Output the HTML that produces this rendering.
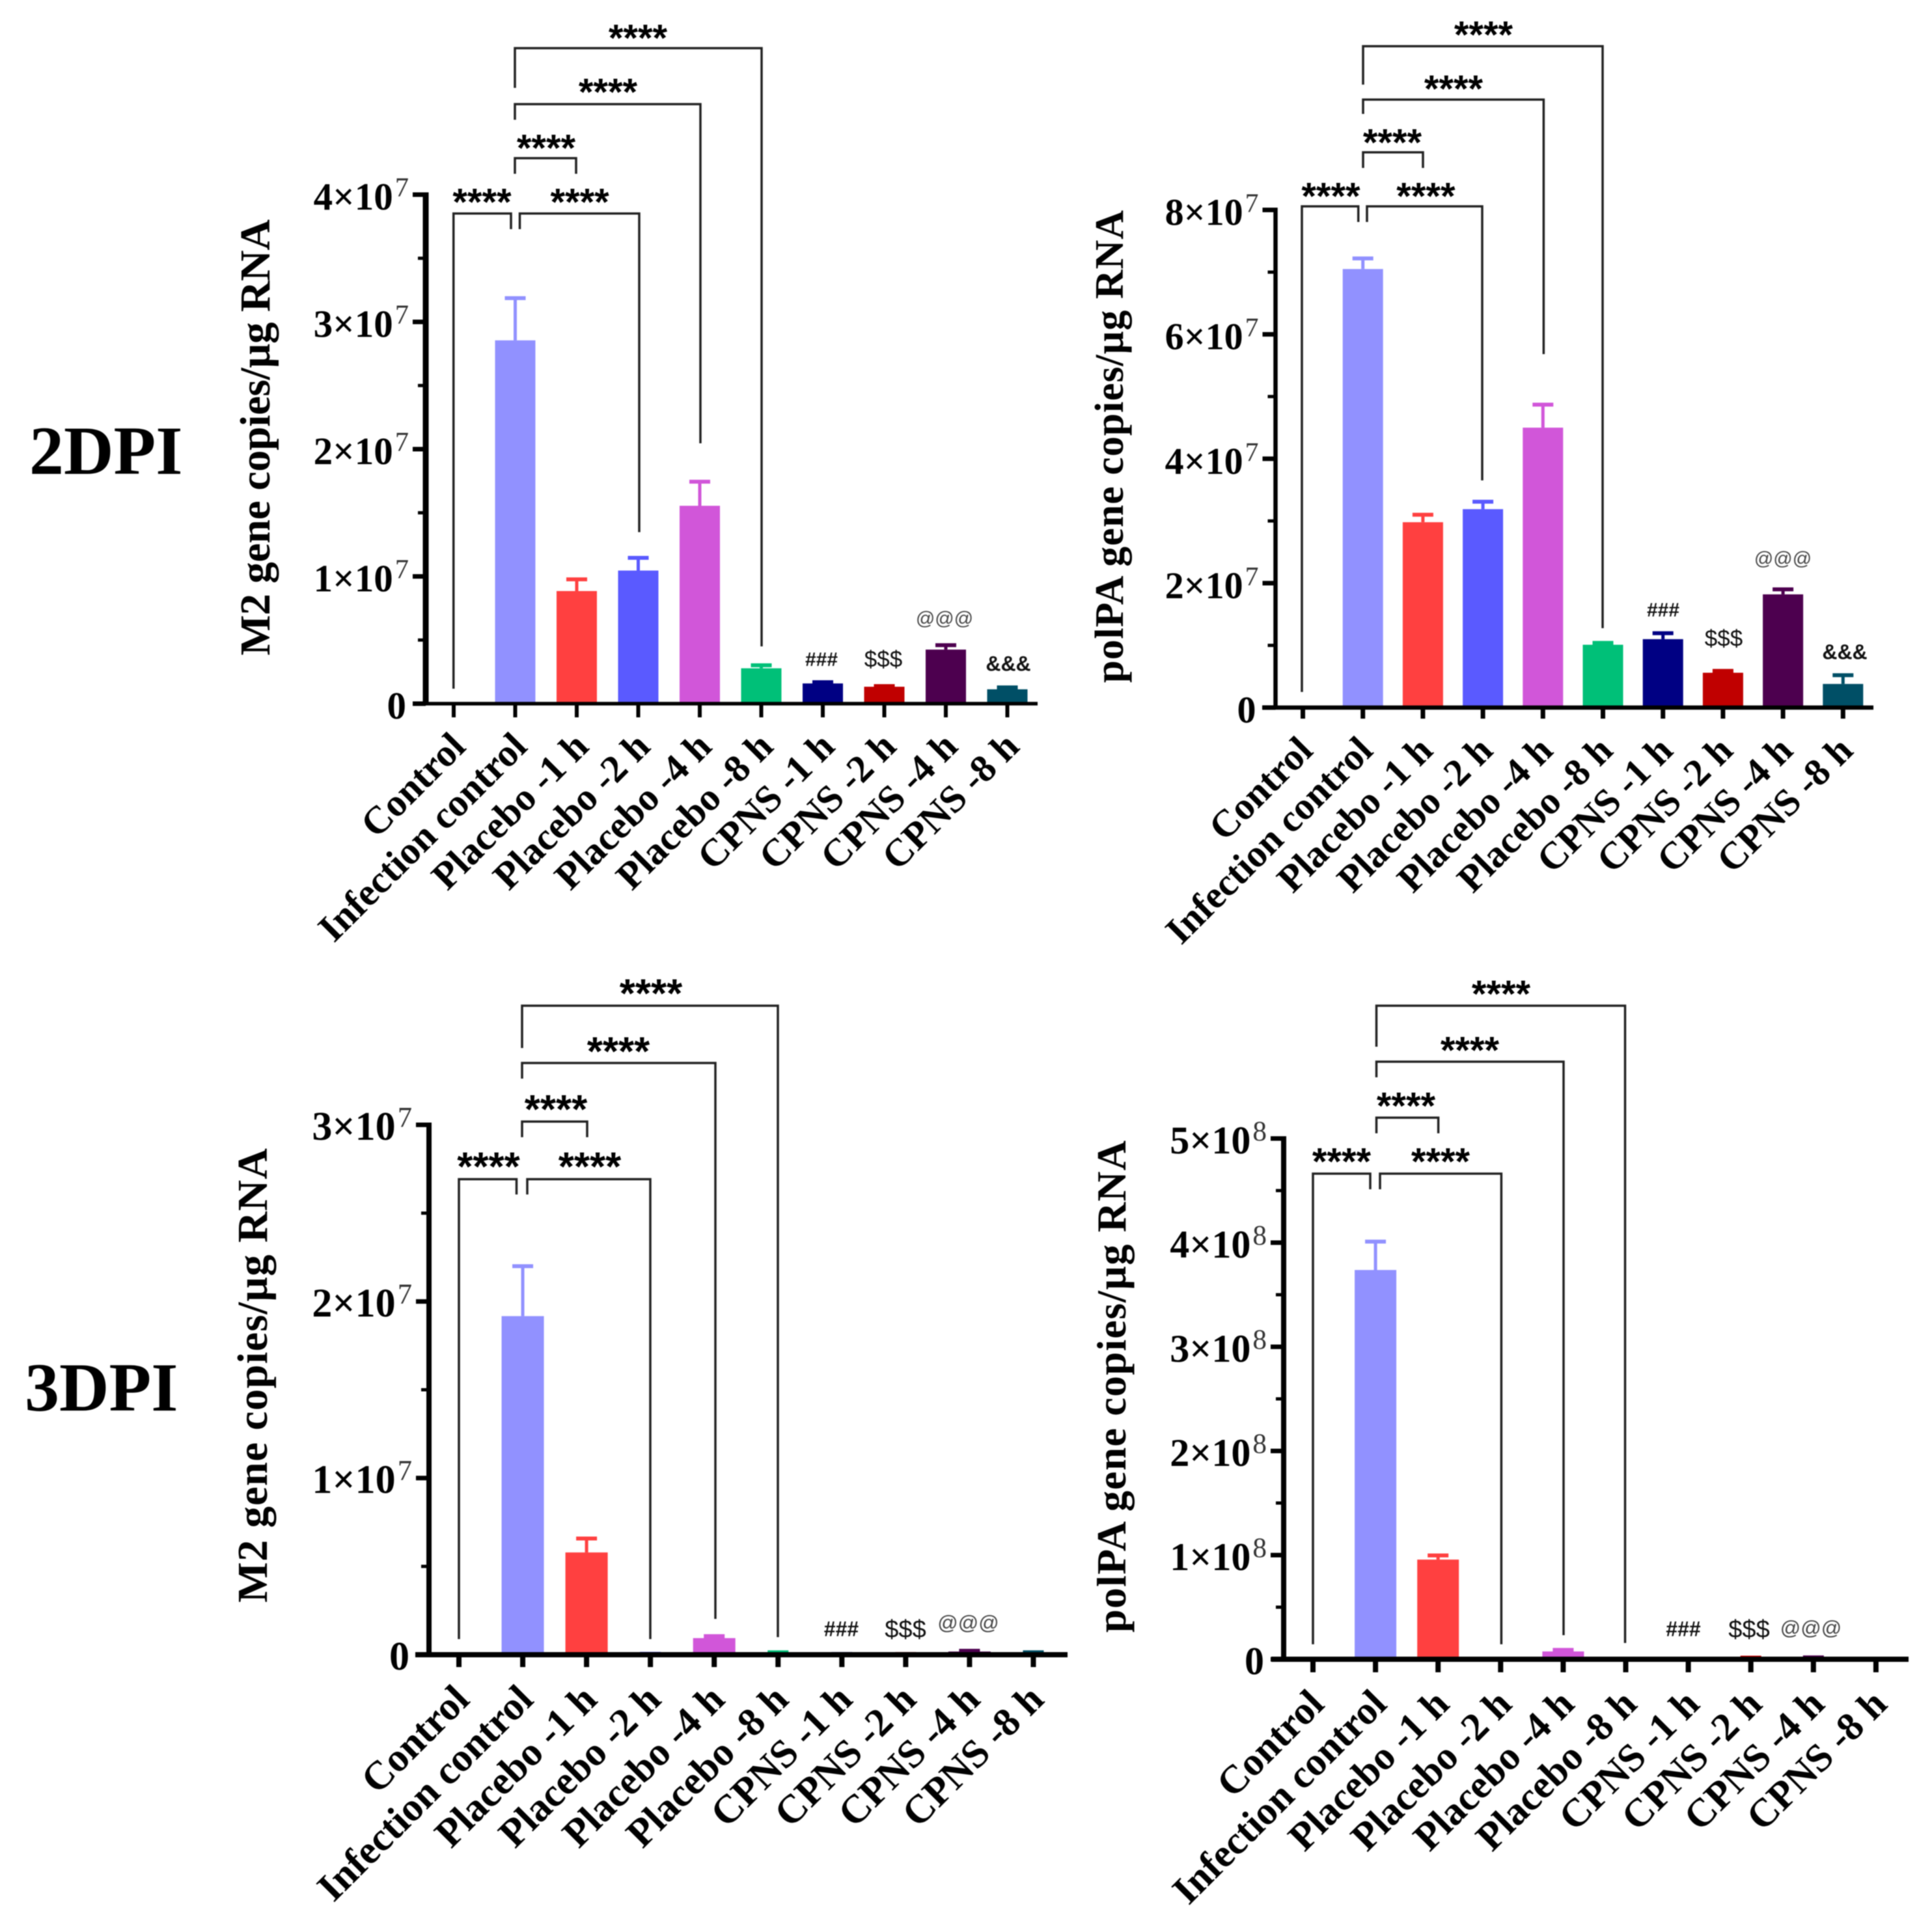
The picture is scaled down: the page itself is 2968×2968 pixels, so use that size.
<!DOCTYPE html>
<html lang="en">
<head>
<meta charset="utf-8">
<title>Viral gene copies at 2DPI and 3DPI</title>
<style>
html,body{margin:0;padding:0;background:#fff;width:2968px;height:2968px;overflow:hidden}
svg{display:block;filter:blur(0.8px)}
text{font-family:"Liberation Serif",serif;fill:#000}
.sans{font-family:"Liberation Sans",sans-serif}
</style>
</head>
<body>
<svg id="figure" xmlns="http://www.w3.org/2000/svg" width="2968" height="2968" viewBox="0 0 2968 2968">
  <rect x="0" y="0" width="2968" height="2968" fill="#fff"/>
  <text x="45" y="728" font-size="106" font-weight="bold">2DPI</text>
  <text x="38" y="2167" font-size="106" font-weight="bold">3DPI</text>
  <text transform="translate(414,672) rotate(-90)" text-anchor="middle" font-size="66" font-weight="bold" textLength="670">M2 gene copies/µg RNA</text>
  <text transform="translate(1725,686) rotate(-90)" text-anchor="middle" font-size="62" font-weight="bold" textLength="726">polPA gene copies/µg RNA</text>
  <text transform="translate(410,2113) rotate(-90)" text-anchor="middle" font-size="66" font-weight="bold" textLength="698">M2 gene copies/µg RNA</text>
  <text transform="translate(1729,2130) rotate(-90)" text-anchor="middle" font-size="64" font-weight="bold" textLength="756">polPA gene copies/µg RNA</text>
</svg>
<script>
const categories = ["Control","Infection control","Placebo -1 h","Placebo -2 h","Placebo -4 h","Placebo -8 h","CPNS -1 h","CPNS -2 h","CPNS -4 h","CPNS -8 h"];
const barColors = ["#9191ff","#9191ff","#ff4040","#5a5aff","#d156d9","#00c078","#000083","#c00000","#4d004f","#004f66"];

const m2Day2Means  = [0,2.855e7,0.885e7,1.046e7,1.555e7,0.278e7,0.159e7,0.133e7,0.425e7,0.113e7];
const m2Day2Upper  = [0,3.187e7,0.977e7,1.146e7,1.744e7,0.302e7,0.169e7,0.138e7,0.46e7,0.128e7];
const m2Day2TickValues = [0,1e7,2e7,3e7,4e7];
const m2Day2TickLabels = ["0","1×10","2×10","3×10","4×10"];

const polpaDay2Means = [0,7.05e7,2.98e7,3.19e7,4.5e7,1.01e7,1.1e7,0.56e7,1.82e7,0.38e7];
const polpaDay2Upper = [0,7.22e7,3.1e7,3.31e7,4.87e7,1.04e7,1.195e7,0.59e7,1.9e7,0.52e7];
const polpaDay2TickValues = [0,2e7,4e7,6e7,8e7];
const polpaDay2TickLabels = ["0","2×10","4×10","6×10","8×10"];

const m2Day3Means = [0,1.917e7,0.579e7,0.004e7,0.094e7,0.012e7,0.003e7,0.003e7,0.018e7,0.012e7];
const m2Day3Upper = [0,2.2e7,0.658e7,0.005e7,0.105e7,0.014e7,0.004e7,0.004e7,0.022e7,0.014e7];
const m2Day3TickValues = [0,1e7,2e7,3e7];
const m2Day3TickLabels = ["0","1×10","2×10","3×10"];

const polpaDay3Means = [0,3.7375e8,0.957e8,0.004e8,0.075e8,0.004e8,0.004e8,0.012e8,0.014e8,0.004e8];
const polpaDay3Upper = [0,4.01e8,0.997e8,0.005e8,0.09e8,0.005e8,0.005e8,0.016e8,0.018e8,0.005e8];
const polpaDay3TickValues = [0,1e8,2e8,3e8,4e8,5e8];
const polpaDay3TickLabels = ["0","1×10","2×10","3×10","4×10","5×10"];

const svg = document.getElementById('figure');
const NS = 'http://www.w3.org/2000/svg';

function mk(tag, attrs, parent, text) {
  const el = document.createElementNS(NS, tag);
  for (const k in attrs) el.setAttribute(k, attrs[k]);
  if (text !== undefined) el.textContent = text;
  (parent || svg).appendChild(el);
  return el;
}

function drawPanel(p) {
  const group = mk('g', {});
  
  
  const yMax = p.tickValues[p.tickValues.length - 1];
  const yScale = v => p.y0 - (v / yMax) * (p.y0 - p.yTop);
  const xScale = i => p.xFirst + i * p.xStep;

  categories.forEach((cat, i) => {
    const slug = cat.toLowerCase().replace(/[^a-z0-9]+/g, '-');
    const mean = p.means[i];
    const upper = p.upper[i];
    const color = barColors[i];
    if (mean > 0) {
      const top = yScale(mean);
      const bar = mk('rect', {x: xScale(i) - p.barW / 2, y: top, width: p.barW, height: p.y0 - top, fill: color}, group);
      
      
      const stem = mk('line', {x1: xScale(i), x2: xScale(i), y1: top, y2: yScale(upper), stroke: color, 'stroke-width': 5}, group);
      
      
      const cap = mk('line', {x1: xScale(i) - 16, x2: xScale(i) + 16, y1: yScale(upper), y2: yScale(upper), stroke: color, 'stroke-width': 6}, group);
      
      
    }
    const tick = mk('line', {x1: xScale(i), x2: xScale(i), y1: p.y0, y2: p.y0 + p.xTickLen, stroke: '#000', 'stroke-width': p.xTickW}, group);
    
    
    const bx = xScale(i) + p.labelDx;
    const by = p.y0 + p.labelDy;
    const lab = mk('text', {transform: `translate(${bx},${by}) rotate(-45)`, 'text-anchor': 'end', 'font-size': p.catFont, 'font-weight': 'bold'}, group, cat);
    
    
  });

  const yAxis = mk('line', {x1: p.axisX, x2: p.axisX, y1: p.yTop - 3.5, y2: p.y0, stroke: '#000', 'stroke-width': p.yAxisW}, group);
  
  
  const xAxis = mk('line', {x1: p.xLeft, x2: p.xRight, y1: p.y0, y2: p.y0, stroke: '#000', 'stroke-width': p.xAxisW}, group);
  
  

  p.tickValues.forEach((v, i) => {
    const y = yScale(v);
    const t = mk('line', {x1: p.axisX - 20, x2: p.axisX, y1: y, y2: y, stroke: '#000', 'stroke-width': 7}, group);
    
    
    if (i > 0) {
      const mid = yScale((v + p.tickValues[i - 1]) / 2);
      const m = mk('line', {x1: p.axisX - 12, x2: p.axisX, y1: mid, y2: mid, stroke: '#000', 'stroke-width': 5}, group);
      
      
    }
    const lab = mk('text', {x: p.axisX - (i > 0 ? 26 : 30), y: y + 23, 'text-anchor': 'end', 'font-size': p.tickFont, 'font-weight': 'bold'}, group, p.tickLabels[i]);
    
    
    if (i > 0) {
      const sup = mk('tspan', {dx: 3, dy: -20, 'font-size': p.tickFont * 0.72, 'font-weight': 'normal', style: 'fill:#333'}, lab, p.exponent);
      
      
    }
  });

  p.brackets.forEach(b => {
    const d = `M${b[0]} ${b[1]}V${b[2]}H${b[3]}V${b[4]}`;
    const path = mk('path', {d: d, fill: 'none', stroke: '#222', 'stroke-width': 3.5}, group);
    
    
  });
  p.stars.forEach(s => {
    const st = mk('text', {x: s[0], y: s[1] + p.starFont * 0.49, 'text-anchor': 'middle', 'font-size': p.starFont, 'font-weight': 'bold', class: 'sans'}, group, '****');
    
    
  });
  p.marks.forEach(m => {
    const heavy = m[0][0] === '#' || m[0][0] === '&';
    const tone = m[0][0] === '@' ? '#444' : '#111';
    const am = mk('text', {x: m[1], y: m[2] + m[3] * 0.36, 'text-anchor': 'middle', 'font-size': m[3], 'font-weight': heavy ? 'bold' : 'normal', class: 'sans', style: 'fill:' + tone}, group, m[0]);
    
    
  });
}

drawPanel({
  id: 'm2-2dpi', means: m2Day2Means, upper: m2Day2Upper, tickValues: m2Day2TickValues, tickLabels: m2Day2TickLabels, exponent: '7',
  axisX: 654, yTop: 299, y0: 1081, xFirst: 697, xStep: 94.5, xLeft: 635, xRight: 1594, barW: 62, yAxisW: 9, xAxisW: 5.5, xTickW: 6, xTickLen: 21,
  labelDx: 21, labelDy: 69, catFont: 59.5, tickFont: 59, starFont: 58,
  brackets: [[791,135,74,1170,993],[791,184,160,1076,681],[791,267,243,885,267],[696.7,1058,328,785,352],[798.5,352,328,982,817.5]],
  stars: [[980,50],[934,133],[839,219],[740.5,302],[890.6,302]],
  marks: [['###',1262,1012,30],['$$$',1357,1012,35],['@@@',1451,949,29],['&&&',1549,1019,32]]
});
drawPanel({
  id: 'polpa-2dpi', means: polpaDay2Means, upper: polpaDay2Upper, tickValues: polpaDay2TickValues, tickLabels: polpaDay2TickLabels, exponent: '7',
  axisX: 1959.5, yTop: 322.5, y0: 1087, xFirst: 2001.5, xStep: 92.2, xLeft: 1939, xRight: 2878, barW: 62, yAxisW: 6.5, xAxisW: 6.5, xTickW: 7, xTickLen: 17,
  labelDx: 18, labelDy: 69, catFont: 59, tickFont: 58, starFont: 58,
  brackets: [[2094,130,71,2462,965],[2094,175,153,2371.4,544],[2094,258,234,2186,258],[2000,1063,317,2086.7,341],[2100,341,317,2277,738]],
  stars: [[2279,45],[2233,128],[2139,210.5],[2044.5,293],[2190.4,293]],
  marks: [['###',2555,936,30],['$$$',2648,980,35],['@@@',2739,857,29],['&&&',2834,1001,32]]
});
drawPanel({
  id: 'm2-3dpi', means: m2Day3Means, upper: m2Day3Upper, tickValues: m2Day3TickValues, tickLabels: m2Day3TickLabels, exponent: '7',
  axisX: 659, yTop: 1728, y0: 2542, xFirst: 705, xStep: 98.05, xLeft: 638, xRight: 1640, barW: 65, yAxisW: 8, xAxisW: 8, xTickW: 8, xTickLen: 19,
  labelDx: 19, labelDy: 72, catFont: 61.5, tickFont: 62, starFont: 62,
  brackets: [[802,1610,1545,1195,2515],[802,1657,1633,1099,2487],[802,1747,1723,902,1747],[705,2518,1811.5,793.5,1835],[810,1835,1811.5,999,2518]],
  stars: [[1000,1517],[950,1606],[854,1695],[750.5,1783],[906,1783]],
  marks: [['###',1292.5,2502,32],['$$$',1391,2502,38],['@@@',1487.5,2492,31]]
});
drawPanel({
  id: 'polpa-3dpi', means: polpaDay3Means, upper: polpaDay3Upper, tickValues: polpaDay3TickValues, tickLabels: polpaDay3TickLabels, exponent: '8',
  axisX: 1972, yTop: 1749, y0: 2549, xFirst: 2017, xStep: 96.1, xLeft: 1953, xRight: 2932, barW: 64, yAxisW: 8, xAxisW: 8, xTickW: 8, xTickLen: 20,
  labelDx: 20, labelDy: 72, catFont: 61, tickFont: 60, starFont: 58,
  brackets: [[2114.5,1608,1545,2496.5,2524],[2114.5,1655,1631,2402,2512],[2114.5,1741,1717,2209.6,1741],[2017,2526,1803,2105,1827],[2120,1827,1803,2306.4,2526]],
  stars: [[2306,1518.6],[2258,1605],[2160,1690.5],[2061,1776],[2213,1776]],
  marks: [['###',2586,2502,32],['$$$',2687,2502,38],['@@@',2782,2500,31]]
});
</script>
</body>
</html>
